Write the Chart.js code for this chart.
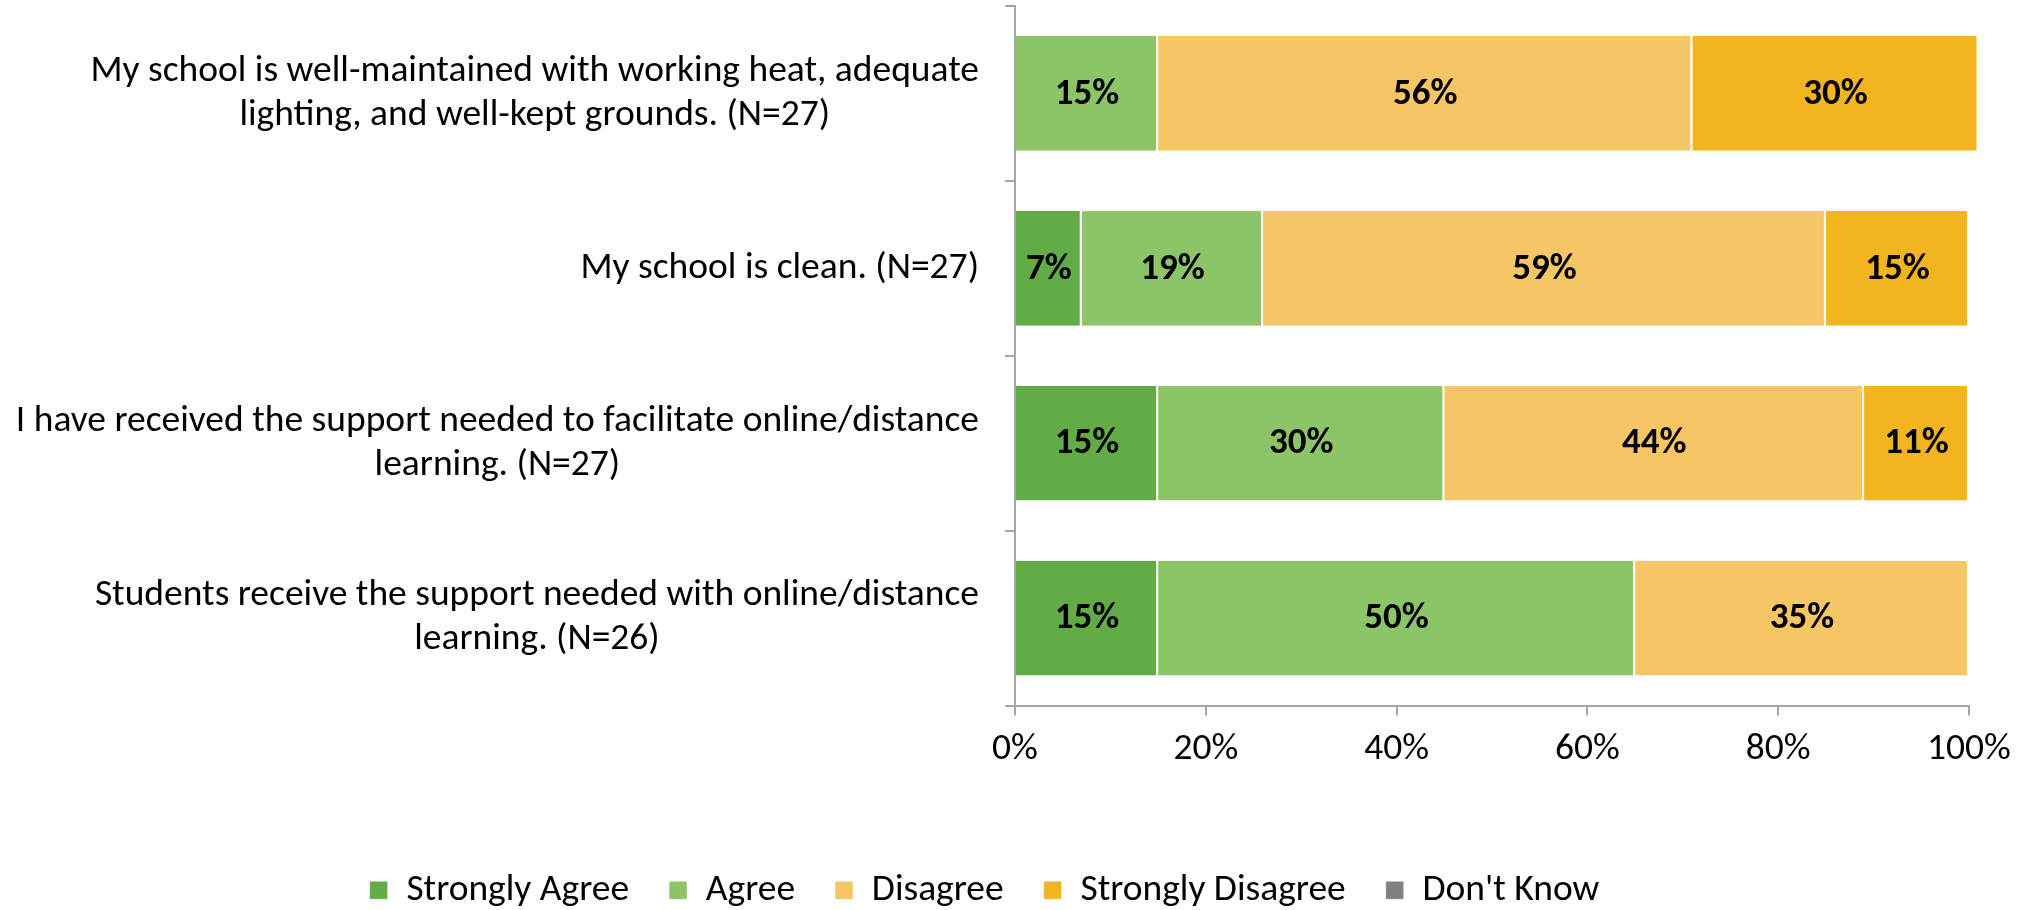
<!DOCTYPE html>
<html>
<head>
<meta charset="utf-8">
<script src="https://cdn.jsdelivr.net/npm/chart.js@4/dist/chart.umd.min.js"></script>
<style>
  html, body { margin: 0; padding: 0; background: #fff; }
  canvas { display: block; }
</style>
</head>
<body>
<canvas id="surveyChart" width="2030" height="910"></canvas>
<script>
// survey statements, one array of lines per statement
const questions = [
  ["My school is well-maintained with working heat, adequate", "lighting, and well-kept grounds. (N=27)"],
  ["My school is clean. (N=27)"],
  ["I have received the support needed to facilitate online/distance", "learning. (N=27)"],
  ["Students receive the support needed with online/distance", "learning. (N=26)"]
];
const stronglyAgree    = [0, 7, 15, 15];
const agree            = [15, 19, 30, 50];
const disagree         = [56, 59, 44, 35];
const stronglyDisagree = [30, 15, 11, 0];
const dontKnow         = [0, 0, 0, 0];
const xTicks = [0, 20, 40, 60, 80, 100];

const FONT = "Carlito, Calibri, 'Liberation Sans Narrow', 'Open Sans', sans-serif";
const FONT_SIZE = 37.5;
const AXIS_GREY = '#A6A6A6';

Chart.defaults.font.family = FONT;
Chart.defaults.font.size = FONT_SIZE;
Chart.defaults.color = '#000';

// percentage printed in the middle of every non-empty segment
const barLabels = {
  id: 'barLabels',
  afterDatasetsDraw(chart) {
    const ctx = chart.ctx;
    ctx.save();
    ctx.font = 'bold 37px ' + FONT;
    ctx.fillStyle = '#000';
    ctx.textAlign = 'center';
    ctx.textBaseline = 'middle';
    chart.data.datasets.forEach((ds, i) => {
      const meta = chart.getDatasetMeta(i);
      meta.data.forEach((bar, j) => {
        const v = ds.data[j];
        if (!v) return;
        ctx.fillText(v + '%', (bar.x + bar.base) / 2, bar.y + 1);
      });
    });
    ctx.restore();
  }
};

// statement text: right aligned block, lines centred inside it
const questionLabels = {
  id: 'questionLabels',
  afterDraw(chart) {
    const y = chart.scales.y;
    const ctx = chart.ctx;
    ctx.save();
    ctx.font = FONT_SIZE + 'px ' + FONT;
    ctx.fillStyle = '#000';
    ctx.textAlign = 'center';
    ctx.textBaseline = 'middle';
    const right = y.right - 36;
    const lineH = 44;
    questions.forEach((lines, i) => {
      const w = Math.max(...lines.map(l => ctx.measureText(l).width));
      const cx = right - w / 2;
      const cy = y.getPixelForTick(i);
      lines.forEach((l, k) => {
        ctx.fillText(l, cx, cy + (k - (lines.length - 1) / 2) * lineH);
      });
    });
    ctx.restore();
  }
};

const seg = (label, data, color) => ({
  label: label,
  data: data,
  backgroundColor: color,
  borderColor: '#fff',
  borderWidth: { top: 0, bottom: 0, left: 0, right: 2 },
  borderSkipped: false,
  categoryPercentage: 1,
  barPercentage: 0.656,
  clip: false
});

new Chart(document.getElementById('surveyChart').getContext('2d'), {
  type: 'bar',
  data: {
    labels: questions,
    datasets: [
      seg('Strongly Agree', stronglyAgree, '#62AC46'),
      seg('Agree', agree, '#8DC468'),
      seg('Disagree', disagree, '#F6C564'),
      seg('Strongly Disagree', stronglyDisagree, '#F2B51F'),
      seg("Don't Know", dontKnow, '#808080')
    ]
  },
  options: {
    indexAxis: 'y',
    responsive: false,
    animation: false,
    devicePixelRatio: 1,
    layout: { padding: { top: 6, right: 61, left: 0, bottom: -9 } },
    scales: {
      x: {
        stacked: true,
        min: 0,
        max: 100,
        afterBuildTicks: s => { s.ticks = xTicks.map(v => ({ value: v })); },
        afterFit: s => { s.height = 126; },
        grid: { drawOnChartArea: false, tickLength: 10, color: AXIS_GREY, lineWidth: 2 },
        border: { color: AXIS_GREY, width: 2 },
        ticks: { callback: v => v + '%', padding: 12, color: '#000', maxRotation: 0 }
      },
      y: {
        stacked: true,
        afterFit: s => { s.width = 1015; },
        grid: { drawOnChartArea: false, offset: true, tickLength: 10, color: AXIS_GREY, lineWidth: 2 },
        border: { color: AXIS_GREY, width: 2 },
        ticks: { display: false }
      }
    },
    plugins: {
      legend: {
        position: 'bottom',
        labels: { boxWidth: 18, boxHeight: 18, padding: 40, color: '#000' }
      },
      tooltip: { enabled: false }
    }
  },
  plugins: [barLabels, questionLabels]
});
</script>
</body>
</html>
